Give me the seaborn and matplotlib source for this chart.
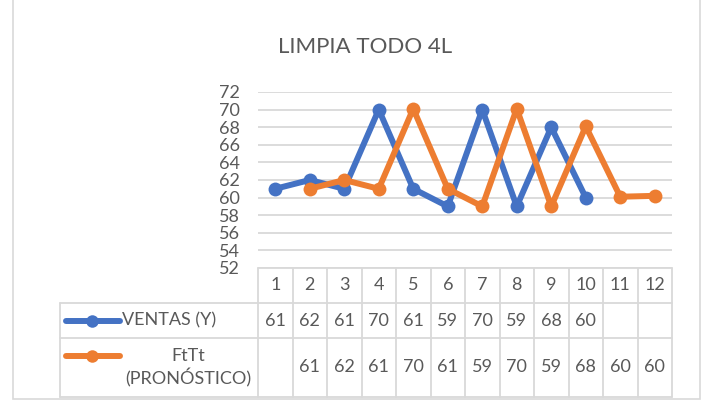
import numpy as np
import pandas as pd
import matplotlib
matplotlib.use("Agg")
import matplotlib.pyplot as plt
import seaborn as sns
from matplotlib.patches import Rectangle

periods = list(range(1, 13))
ventas = [61, 62, 61, 70, 61, 59, 70, 59, 68, 60, None, None]
pronostico = [None, 61, 62, 61, 70.1, 61, 59, 70.1, 59, 68.1, 60.1, 60.2]
ventas_txt = ["61", "62", "61", "70", "61", "59", "70", "59", "68", "60", "", ""]
pron_txt = ["", "61", "62", "61", "70", "61", "59", "70", "59", "68", "60", "60"]
series_names = ["VENTAS (Y)", "FtTt\n(PRONÓSTICO)"]
title = "LIMPIA TODO 4L"

blue = "#4472C4"
orange = "#ED7D31"
grey_txt = "#595959"
grid_c = "#D9D9D9"

sns.set_style("white")
plt.rcParams["font.family"] = ["Lato", "DejaVu Sans"]

W, H = 708, 405
fig = plt.figure(figsize=(W / 100, H / 100), dpi=100)

# pixel geometry of the plot area / data table
x0, x1 = 258, 672
y_top, y_bot = 92, 268
ax = fig.add_axes([x0 / W, 1 - y_bot / H, (x1 - x0) / W, (y_bot - y_top) / H])

df = pd.DataFrame({"t": periods,
                   "v": pd.to_numeric(pd.Series(ventas), errors="coerce"),
                   "p": pd.to_numeric(pd.Series(pronostico), errors="coerce")})
for col, c in [("v", blue), ("p", orange)]:
    sns.lineplot(data=df, x="t", y=col, ax=ax, color=c, lw=4.3, marker="o",
                 markersize=10, markeredgewidth=0, zorder=3)

ax.set_xlim(0.5, 12.5)
ax.set_ylim(52, 72)
ax.set_yticks(range(52, 73, 2))
ax.set_xticks([])
ax.set_xlabel("")
ax.set_ylabel("")
ax.grid(axis="y", color=grid_c, lw=1.3)
ax.tick_params(axis="y", length=0, pad=13, labelsize=13, labelcolor=grey_txt)
for s in ax.spines.values():
    s.set_visible(False)

fig.text(0.516, 1 - 47 / H, title, ha="center", va="center",
         fontsize=16, color=grey_txt)

# overlay in pixel coordinates for the data table
ov = fig.add_axes([0, 0, 1, 1], facecolor="none")
ov.set_xlim(0, W)
ov.set_ylim(H, 0)
ov.axis("off")

cw = (x1 - x0) / len(periods)
r0, r1, r2, r3 = 268, 303, 338, 397
leg_x = 60
lk = dict(color=grid_c, lw=1.3)
ov.plot([x0, x1], [r0, r0], **lk)
ov.plot([leg_x, x1], [r1, r1], **lk)
ov.plot([leg_x, x1], [r2, r2], **lk)
ov.plot([leg_x, x1], [r3, r3], **lk)
ov.plot([leg_x, leg_x], [r1, r3], **lk)
for i in range(len(periods) + 1):
    ov.plot([x0 + i * cw, x0 + i * cw], [r0, r3], **lk)

tk = dict(ha="center", va="center", fontsize=13, color=grey_txt)
for i, p in enumerate(periods):
    cx = x0 + (i + 0.5) * cw
    ov.text(cx, (r0 + r1) / 2, str(p), **tk)
    ov.text(cx, (r1 + r2) / 2, ventas_txt[i], **tk)
    ov.text(cx, (r2 + r3) / 2, pron_txt[i], **tk)

# legend keys
ov.plot([66, 120], [(r1 + r2) / 2] * 2, color=blue, lw=4.3, solid_capstyle="round")
ov.plot([92], [(r1 + r2) / 2], "o", color=blue, ms=9, mew=0)
ov.text(122, (r1 + r2) / 2, series_names[0], ha="left", va="center",
        fontsize=13, color=grey_txt)
ov.plot([66, 120], [356] * 2, color=orange, lw=4.3, solid_capstyle="round")
ov.plot([92], [356], "o", color=orange, ms=9, mew=0)
ov.text(188, (r2 + r3) / 2, series_names[1], ha="center", va="center",
        fontsize=13, color=grey_txt, linespacing=1.3)

# outer chart border
ov.add_patch(Rectangle((13, -10), 687, 409, fill=False, ec=grid_c, lw=1.2))

fig.savefig("out.png", dpi=100)
